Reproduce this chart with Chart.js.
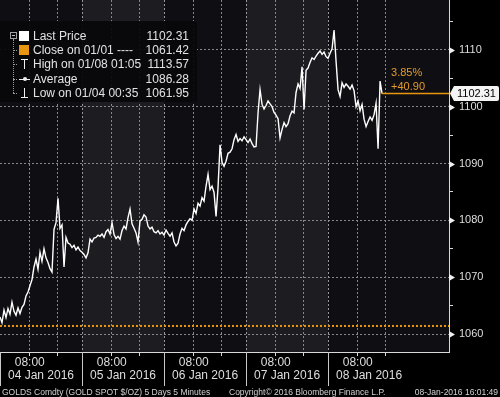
<!DOCTYPE html>
<html>
<head>
<meta charset="utf-8">
<script src="https://cdn.jsdelivr.net/npm/chart.js@4.4.0/dist/chart.umd.min.js"></script>
<style>
html,body{margin:0;padding:0;background:#000;width:500px;height:397px;overflow:hidden;}
#wrap{position:relative;width:500px;height:397px;font-family:"Liberation Sans",Arial,sans-serif;color:#e0e0e0;}
#c{position:absolute;left:0;top:0;}
#legend{position:absolute;left:0;top:21px;width:197px;height:81px;background:rgba(9,9,11,0.94);}
.abs{position:absolute;}
.lrow{position:absolute;height:14px;line-height:14px;font-size:12px;color:#e2e2e2;white-space:nowrap;}
.foot{position:absolute;top:386px;height:12px;line-height:12px;font-size:8.5px;color:#d2d2d2;white-space:nowrap;}
</style>
</head>
<body>
<div id="wrap">
<canvas id="c" width="500" height="397"></canvas>
<div id="legend"></div>
<div id="overlay"></div>
</div>
<script>
// ---------------- data ----------------
const DAY_LABELS = ['04 Jan 2016', '05 Jan 2016', '06 Jan 2016', '07 Jan 2016', '08 Jan 2016'];
const HOUR_LABEL = '08:00';
const Y_TICKS = [1060, 1065, 1070, 1075, 1080, 1085, 1090, 1095, 1100, 1105, 1110, 1115];
// GOLD SPOT price, readings every ~35 min starting 04 Jan 00:00
const PRICE = [
  1063.0, 1062.0, 1064.2, 1062.9, 1064.5, 1063.5, 1065.6, 1064.0, 1063.3, 1064.6,
  1063.6, 1064.7, 1065.2, 1066.7, 1067.4, 1068.5, 1069.6, 1071.8, 1073.2, 1071.4,
  1074.4, 1072.8, 1075.0, 1073.4, 1072.6, 1071.5, 1070.9, 1078.4, 1079.6, 1083.9,
  1078.6, 1079.2, 1071.8, 1077.0, 1076.0, 1075.8, 1075.2, 1075.6, 1074.8, 1075.3,
  1074.7, 1074.4, 1074.0, 1073.4, 1074.3, 1076.7, 1076.2, 1076.9, 1077.0, 1077.4,
  1077.2, 1077.6, 1077.0, 1078.0, 1078.4, 1077.6, 1079.6, 1077.5, 1076.8, 1077.2,
  1076.7, 1078.2, 1079.0, 1078.5, 1080.5, 1082.0, 1079.4, 1078.6, 1077.8, 1076.2,
  1079.9, 1080.2, 1081.0, 1080.6, 1079.0, 1078.5, 1078.8, 1078.0, 1077.8, 1078.2,
  1077.6, 1077.9, 1077.4, 1078.3, 1077.7, 1077.2, 1077.8, 1076.2, 1075.5, 1076.0,
  1077.6, 1078.6, 1078.2, 1079.2, 1079.8, 1080.3, 1080.0, 1082.0, 1081.2, 1083.0,
  1082.5, 1084.0, 1083.4, 1086.0, 1088.1, 1085.4, 1086.0, 1084.9, 1080.7, 1085.8,
  1093.3, 1090.2, 1089.5, 1090.4, 1091.8, 1092.0, 1092.6, 1094.2, 1095.1, 1093.9,
  1094.4, 1094.0, 1094.7, 1094.2, 1093.7, 1094.3, 1093.5, 1092.9, 1093.0, 1098.9,
  1103.0, 1100.4, 1099.6, 1100.2, 1101.0, 1100.5, 1100.0, 1099.0, 1098.5, 1097.9,
  1094.5, 1096.0, 1097.2, 1096.5, 1097.0, 1098.4, 1099.2, 1098.9, 1102.5, 1104.0,
  1103.2, 1107.0, 1099.5, 1106.4, 1106.8, 1107.8, 1108.6, 1108.3, 1108.9, 1109.4,
  1109.8, 1109.2, 1109.6, 1108.8, 1108.5, 1109.4, 1110.2, 1113.5, 1108.0, 1103.0,
  1101.8, 1104.2, 1103.4, 1104.0, 1103.6, 1103.1, 1103.8, 1102.8, 1100.0, 1101.0,
  1099.3, 1100.4, 1097.8, 1096.5, 1097.4, 1098.2, 1097.6, 1098.6, 1100.6, 1092.6,
  1104.5, 1102.31
];
const SAMPLE_HOURS = 0.5854;      // spacing of the readings, in hours
const AXIS_END_HOURS = 131.4;     // right edge of the time axis
const CLOSE_0101 = 1061.42;
const LAST_PRICE = 1102.31;
const CHANGE_PCT = '3.85%';
const CHANGE_ABS = '+40.90';
const LEGEND_LABELS = ['Last Price', 'Close on 01/01 ----', 'High on 01/08 01:05', 'Average', 'Low on 01/04 00:35'];
const LEGEND_VALUES = ['1102.31', '1061.42', '1113.57', '1086.28', '1061.95'];
const FOOTER_LEFT = 'GOLDS Comdty (GOLD SPOT $/OZ) 5 Days 5 Minutes';
const FOOTER_MID = 'Copyright\u00A9 2016 Bloomberg Finance L.P.';
const FOOTER_RIGHT = '08-Jan-2016 16:01:49';

// ---------------- styling ----------------
const ORANGE = '#e8960f';
const GRID = '#88888c';
const AXIS = '#d8d8d8';
const TXT = '#dedede';
const DAY_DARK = '#0f0f13';
const DAY_LIGHT = '#1d1d21';
const NONE = 'rgba(0,0,0,0)';
Chart.defaults.font.family = '"Liberation Sans", Arial, sans-serif';

const priceData = PRICE.map((v, i) => ({x: i * SAMPLE_HOURS, y: v}));
const lastX = priceData[priceData.length - 1].x;

const xTicks = [];
DAY_LABELS.forEach((lab, d) => {
  const s = d * 24;
  xTicks.push({value: s, kind: 'sep', text: ''});
  xTicks.push({value: s + 8.7, kind: 't08', text: HOUR_LABEL});
  xTicks.push({value: s + 12, kind: 'date', text: ['', lab]});
  xTicks.push({value: s + 16.7, kind: 't16', text: ''});
});
const isGridTick = c => c.tick && (c.tick.kind === 't08' || c.tick.kind === 't16');

const decor = {
  id: 'decor',
  beforeDraw(chart) {
    const {ctx, chartArea: a, scales: {x}} = chart;
    ctx.save();
    DAY_LABELS.forEach((lab, d) => {
      const x0 = x.getPixelForValue(d * 24);
      const x1 = d === DAY_LABELS.length - 1 ? a.right : x.getPixelForValue((d + 1) * 24);
      ctx.fillStyle = d % 2 === 0 ? DAY_DARK : DAY_LIGHT;
      ctx.fillRect(x0, a.top, x1 - x0, a.bottom - a.top);
    });
    ctx.restore();
  },
  beforeDatasetsDraw(chart) {
    const {ctx, chartArea: a, scales: {x}} = chart;
    ctx.save();
    ctx.lineWidth = 1;
    DAY_LABELS.forEach((lab, d) => {
      const px = Math.round(x.getPixelForValue(d * 24)) + 0.5;
      if (d > 0) {
        ctx.strokeStyle = '#98989c';
        ctx.setLineDash([2, 2]);
        ctx.beginPath(); ctx.moveTo(px, a.top); ctx.lineTo(px, a.bottom); ctx.stroke();
      }
      ctx.setLineDash([]);
      ctx.strokeStyle = '#c8c8c8';
      ctx.beginPath(); ctx.moveTo(px, a.bottom); ctx.lineTo(px, a.bottom + 34); ctx.stroke();
    });
    ctx.restore();
  },
  afterDraw(chart) {
    const {ctx, chartArea: a, scales: {y}} = chart;
    ctx.save();
    // tick triangles
    ctx.fillStyle = '#f0f0f0';
    Y_TICKS.filter(v => v % 10 === 0).forEach(v => {
      const py = Math.round(y.getPixelForValue(v)) + 0.5;
      ctx.beginPath();
      ctx.moveTo(a.right, py - 3.5); ctx.lineTo(a.right + 6, py); ctx.lineTo(a.right, py + 3.5);
      ctx.closePath(); ctx.fill();
    });
    // last price tag
    const py = y.getPixelForValue(LAST_PRICE);
    ctx.fillStyle = '#f4f4f4';
    ctx.beginPath();
    ctx.moveTo(a.right + 1, py);
    ctx.lineTo(a.right + 5, py - 7.5);
    ctx.lineTo(497, py - 7.5);
    ctx.quadraticCurveTo(499, py - 7.5, 499, py - 5.5);
    ctx.lineTo(499, py + 5.5);
    ctx.quadraticCurveTo(499, py + 7.5, 497, py + 7.5);
    ctx.lineTo(a.right + 5, py + 7.5);
    ctx.closePath(); ctx.fill();
    ctx.fillStyle = '#000';
    ctx.font = '11px "Liberation Sans", Arial, sans-serif';
    ctx.textBaseline = 'middle';
    ctx.textAlign = 'left';
    ctx.fillText(LEGEND_VALUES[0], a.right + 8, py + 0.5);
    // change text
    ctx.fillStyle = '#e39a2a';
    ctx.font = '11px "Liberation Sans", Arial, sans-serif';
    const tx = chart.scales.x.getPixelForValue(lastX) + 9;
    ctx.fillText(CHANGE_PCT, tx, py - 21);
    ctx.fillText(CHANGE_ABS, tx, py - 7);
    ctx.restore();
  }
};

new Chart(document.getElementById('c'), {
  type: 'line',
  data: {
    datasets: [
      {label: 'Close on 01/01', data: [{x: 0, y: CLOSE_0101}, {x: AXIS_END_HOURS, y: CLOSE_0101}],
       borderColor: ORANGE, borderWidth: 2, borderDash: [2, 2], pointRadius: 0},
      {label: 'Last', data: [{x: lastX, y: LAST_PRICE}, {x: AXIS_END_HOURS, y: LAST_PRICE}],
       borderColor: ORANGE, borderWidth: 1.5, pointRadius: 0},
      {label: 'Last Price', data: priceData, borderColor: '#ffffff', borderWidth: 1.4,
       pointRadius: 0, tension: 0}
    ]
  },
  options: {
    responsive: false, animation: false, devicePixelRatio: 1,
    layout: {padding: 0},
    plugins: {legend: {display: false}, tooltip: {enabled: false}},
    scales: {
      x: {
        type: 'linear', min: 0, max: AXIS_END_HOURS,
        afterBuildTicks: s => { s.ticks = xTicks.map(t => ({value: t.value, kind: t.kind, text: t.text})); },
        afterFit: s => { s.height = 45; s.paddingLeft = 0; s.paddingRight = 0; },
        ticks: {
          autoSkip: false, maxRotation: 0, minRotation: 0, padding: 0, color: TXT,
          font: {size: 12, lineHeight: 1.1},
          callback: (v, i, ticks) => ticks[i].text
        },
        grid: {color: c => isGridTick(c) ? GRID : NONE, tickColor: c => isGridTick(c) ? AXIS : NONE,
               tickLength: 4, lineWidth: 1},
        border: {display: true, color: AXIS, width: 1, dash: [2, 2]}
      },
      y: {
        type: 'linear', position: 'right', min: 1056.84, max: 1118.77,
        afterBuildTicks: s => { s.ticks = Y_TICKS.map(v => ({value: v})); },
        afterFit: s => { s.width = 51; s.paddingTop = 0; s.paddingBottom = 0; },
        ticks: {
          padding: 6, color: TXT, font: {size: 11},
          callback: v => (v % 10 === 0 ? String(v) : '')
        },
        grid: {color: c => (c.tick && c.tick.value % 10 === 0) ? GRID : NONE, tickColor: AXIS,
               tickLength: 4, lineWidth: 1},
        border: {display: true, color: AXIS, width: 1, dash: [2, 2]}
      }
    }
  },
  plugins: [decor]
});

// ---------------- legend & footer (HTML text) ----------------
const wrap = document.getElementById('overlay');
function box(css) { const d = document.createElement('div'); d.className = 'abs'; d.style.cssText = css; wrap.appendChild(d); return d; }
const ROW_CENTERS = [36, 50, 64, 79, 93];
LEGEND_LABELS.forEach((lab, i) => {
  const cy = ROW_CENTERS[i];
  const l = document.createElement('div'); l.className = 'lrow';
  l.style.cssText = `left:33px;top:${cy - 7}px;`; l.textContent = lab; wrap.appendChild(l);
  const v = document.createElement('div'); v.className = 'lrow';
  v.style.cssText = `left:120px;width:69px;text-align:right;top:${cy - 7}px;`; v.textContent = LEGEND_VALUES[i]; wrap.appendChild(v);
  if (i > 0) box(`left:13px;top:${cy}px;width:4px;height:0;border-top:1px dotted #9a9a9a;`);
});
// tree
box('left:10px;top:32px;width:5px;height:5px;border:1px solid #a0a0a0;');
box('left:12px;top:35px;width:3px;height:1px;background:#c0c0c0;');
box('left:13px;top:39px;width:0;height:54px;border-left:1px dotted #9a9a9a;');
// icons
box('left:19px;top:31px;width:10px;height:10px;background:#ffffff;');
box(`left:19px;top:45px;width:10px;height:10px;background:${ORANGE};`);
box('left:21px;top:59px;width:7px;height:1px;background:#f0f0f0;');
box('left:24px;top:59px;width:1px;height:10px;background:#f0f0f0;');
box('left:19px;top:79px;width:11px;height:1px;background:#f0f0f0;');
box('left:23px;top:77px;width:4px;height:4px;border-radius:2px;background:#f0f0f0;');
box('left:24px;top:88px;width:1px;height:10px;background:#f0f0f0;');
box('left:21px;top:97px;width:7px;height:1px;background:#f0f0f0;');
// footer
const f1 = document.createElement('div'); f1.className = 'foot'; f1.style.left = '2px'; f1.textContent = FOOTER_LEFT; wrap.appendChild(f1);
const f2 = document.createElement('div'); f2.className = 'foot'; f2.style.left = '229px'; f2.textContent = FOOTER_MID; wrap.appendChild(f2);
const f3 = document.createElement('div'); f3.className = 'foot'; f3.style.right = '2px'; f3.textContent = FOOTER_RIGHT; wrap.appendChild(f3);
</script>
</body>
</html>
